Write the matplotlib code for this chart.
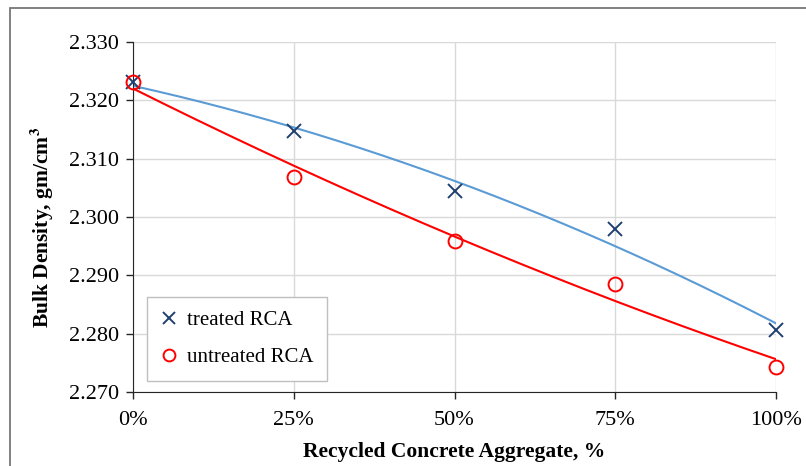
import numpy as np
import matplotlib.pyplot as plt
from matplotlib.patches import Rectangle
from matplotlib.ticker import FuncFormatter

plt.rcParams['font.family'] = ['Liberation Serif', 'DejaVu Serif']
plt.rcParams['mathtext.fontset'] = 'stix'

# RCA replacement level (%) and bulk density (gm/cm3)
rca = np.array([0, 25, 50, 75, 100])
treated = np.array([2.3231, 2.3147, 2.3045, 2.2979, 2.2806])
untreated = np.array([2.3231, 2.3069, 2.2959, 2.2885, 2.2743])

fig = plt.figure(figsize=(8.06, 4.66), dpi=100)
ax = fig.add_axes([133/806, 1 - 392/466, (776-133)/806, (392-42)/466])

# outer chart frame
fig.patches.append(Rectangle((10/806, -0.05), 1.2, 1 - 8/466 + 0.05, transform=fig.transFigure,
                             fill=False, edgecolor='#767676', linewidth=1.3))

# 2nd order polynomial trendlines
xs = np.linspace(0, 100, 200)
pt = np.polyfit(rca, treated, 2)
pu = np.polyfit(rca, untreated, 2)
ax.plot(xs, np.polyval(pt, xs), color='#5b9bd5', linewidth=1.5, zorder=2)
ax.plot(xs, np.polyval(pu, xs), color='#ff0000', linewidth=1.5, zorder=2)

ax.plot(rca, treated, 'x', color='#1f3f6e', markersize=10, markeredgewidth=1.4,
        label='treated RCA', zorder=3, clip_on=False)
ax.plot(rca, untreated, 'o', color='#ff0000', markerfacecolor='none', markersize=10,
        markeredgewidth=1.4, label='untreated RCA', zorder=3, clip_on=False)

ax.set_xlim(0, 100)
ax.set_ylim(2.270, 2.330)
ax.set_xticks(rca)
ax.set_yticks(np.arange(2.270, 2.3301, 0.010))
ax.xaxis.set_major_formatter(FuncFormatter(lambda v, p: '%d%%' % v))
ax.yaxis.set_major_formatter(FuncFormatter(lambda v, p: '%.3f' % v))
ax.grid(True, color='#d9d9d9', linewidth=1)
ax.set_axisbelow(True)
for s in ['top', 'right']:
    ax.spines[s].set_visible(False)
ax.spines['left'].set_color('#262626')
ax.spines['bottom'].set_color('#262626')
ax.tick_params(axis='both', direction='out', length=5, width=1, color='#262626',
               labelsize=16)
ax.tick_params(axis='x', pad=9)
ax.tick_params(axis='y', pad=5)

ax.set_xlabel('Recycled Concrete Aggregate, %', fontsize=15.5, fontweight='bold', labelpad=8)
ax.set_ylabel('Bulk Density, gm/cm$^\\mathbf{3}$', fontsize=15.5, fontweight='bold')
ax.yaxis.set_label_coords(-0.119, 0.471)

leg = ax.legend(loc='lower left', bbox_to_anchor=(14/643, 11/350), fontsize=15,
                fancybox=False, edgecolor='#bfbfbf', framealpha=1, handlelength=0.8,
                handletextpad=0.45, borderpad=0.65, labelspacing=0.85, borderaxespad=0,
                markerscale=0.85)
leg.get_frame().set_linewidth(1)

fig.savefig('out.png', dpi=100)
